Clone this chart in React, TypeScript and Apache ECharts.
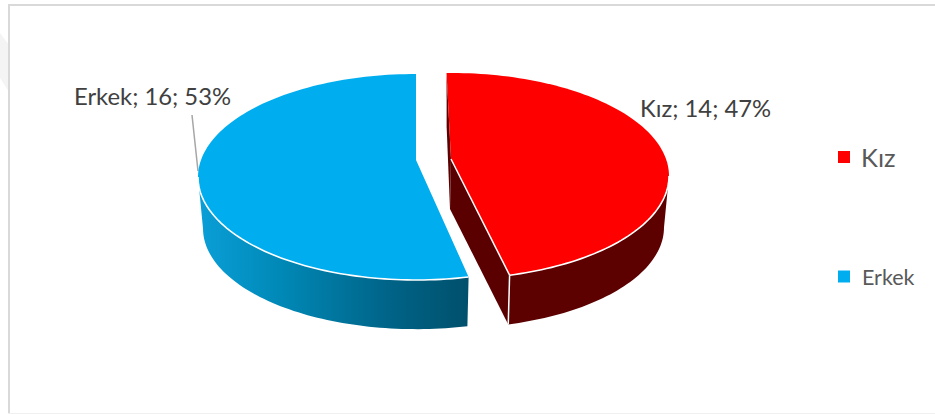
import React, { useEffect, useRef } from "react";
import * as echarts from "echarts";

const categories = ["Kız", "Erkek"];
const values = [14, 16];
const sliceColors = ["#ff0000", "#00aeef"];

const W = 935;
const H = 414;
const RX = 218;
const RY = 103;
const CX = 416;
const CY = 177;
const APEX_RATIO = -0.165; // perspective: the apex sits above the ellipse's centre
const DEPTH = 51.5;
const BOTTOM_SCALE = 0.977;
// explosion / small turn of each slice, in order of categories
const sliceOffset = [
  { dx: 35, dy: -1, turn: -1.4 },
  { dx: 0, dy: 0, turn: 0 },
];
const labelPos = [
  { x: 640, y: 108 },
  { x: 74, y: 96 },
];
const leader = [
  [192, 115],
  [198, 171],
];

const total = values.reduce((a, b) => a + b, 0);
const rad = (d: number) => (d * Math.PI) / 180;

// ray from the apex at angle th (clockwise from top) meets the unit circle at parameter phi
function hit(thDeg: number) {
  const dx = Math.sin(rad(thDeg));
  const dy = -Math.cos(rad(thDeg));
  const b = APEX_RATIO * dy;
  const c = APEX_RATIO * APEX_RATIO - 1;
  const t = -b + Math.sqrt(b * b - c);
  const x = t * dx;
  const y = APEX_RATIO + t * dy;
  return (Math.atan2(x, -y) * 180) / Math.PI;
}

function renderSlice(index: number) {
  return () => {
    const start = values.slice(0, index).reduce((a, b) => a + b, 0);
    const off = sliceOffset[index];
    const th0 = (start / total) * 360 + off.turn;
    const th1 = ((start + values[index]) / total) * 360 + off.turn;
    const p0 = hit(th0);
    let p1 = hit(th1);
    if (p1 < p0) p1 += 360;
    const cx = CX + off.dx;
    const cy = CY + off.dy;
    const top = (p: number): number[] => [
      cx + RX * Math.sin(rad(p)),
      cy - RY * Math.cos(rad(p)),
    ];
    const bot = (p: number): number[] => [
      cx + BOTTOM_SCALE * RX * Math.sin(rad(p)),
      cy + DEPTH - BOTTOM_SCALE * RY * Math.cos(rad(p)),
    ];
    const apex = [cx, cy + APEX_RATIO * RY];
    const apexBot = [cx - 1, cy + DEPTH + APEX_RATIO * RY * BOTTOM_SCALE - 2];
    const arc = (a: number, b: number, f: (p: number) => number[]) => {
      const n = Math.max(2, Math.ceil(Math.abs(b - a) / 1.5));
      const pts: number[][] = [];
      for (let i = 0; i <= n; i++) pts.push(f(a + ((b - a) * i) / n));
      return pts;
    };
    const visA = Math.max(p0, 90);
    const visB = Math.min(p1, 270);
    const topArc = arc(visA, visB, top);
    const botArc = arc(visB, visA, bot);
    const children: any[] = [];

    const isRed = index === 0;
    if (isRed) {
      // leading cut face, a thin sliver behind the slice
      children.push({
        type: "polygon",
        shape: { points: [top(p0), apex, apexBot, bot(p0)] },
        style: { fill: "#5a0000" },
      });
      // trailing cut face
      children.push({
        type: "polygon",
        shape: { points: [apex, top(p1), bot(p1), apexBot] },
        style: { fill: "#5a0000" },
      });
    }
    children.push({
      type: "polygon",
      shape: { points: [...topArc, ...botArc] },
      style: {
        fill: isRed
          ? "#5c0000"
          : new echarts.graphic.LinearGradient(0, 0, 1, 0, [
              { offset: 0, color: "#0a9fd8" },
              { offset: 0.3, color: "#0089b7" },
              { offset: 0.7, color: "#006488" },
              { offset: 1, color: "#00506c" },
            ]),
      },
    });
    if (isRed) {
      children.push({
        type: "line",
        shape: { x1: top(p1)[0], y1: top(p1)[1], x2: bot(p1)[0], y2: bot(p1)[1] },
        style: { stroke: "#ffffff", lineWidth: 1.5 },
      });
    }
    children.push({
      type: "polygon",
      shape: { points: [apex, ...arc(p0, p1, top)] },
      style: { fill: sliceColors[index] },
    });
    if (isRed) {
      children.push({
        type: "polyline",
        shape: { points: [apex, top(p1)] },
        style: { stroke: "#ffffff", lineWidth: 1.5, fill: "none" },
      });
    }
    children.push({
      type: "polyline",
      shape: { points: topArc },
      style: { stroke: "#ffffff", lineWidth: 1.6, fill: "none" },
    });
    const pct = Math.round((values[index] / total) * 100);
    children.push({
      type: "text",
      x: labelPos[index].x,
      y: labelPos[index].y,
      style: {
        text: `${categories[index]}; ${values[index]}; ${pct}%`,
        fill: "#404040",
        fontFamily: "Lato, 'Noto Sans', sans-serif",
        fontSize: 23.8,
        verticalAlign: "middle",
        align: "left",
      },
    });
    return { type: "group", children };
  };
}

export default function App() {
  const ref = useRef<HTMLDivElement>(null);
  useEffect(() => {
    const chart = echarts.init(ref.current as HTMLDivElement, undefined, {
      renderer: "svg",
    });
    chart.setOption({
      animation: false,
      backgroundColor: "#ffffff",
      legend: {
        orient: "vertical",
        left: 838,
        top: 144,
        padding: 0,
        itemWidth: 12,
        itemHeight: 12,
        itemGap: 95.5,
        selectedMode: false,
        textStyle: { fontFamily: "Lato, 'Noto Sans', sans-serif", color: "#595959" },
        data: [
          { name: categories[0], icon: "rect", textStyle: { fontSize: 25.5, color: "#595959", padding: [0, 0, 0, 6] } },
          { name: categories[1], icon: "rect", textStyle: { fontSize: 21.5, color: "#595959", padding: [0, 0, 0, 7] } },
        ],
      },
      graphic: [
        {
          type: "polygon",
          silent: true,
          shape: { points: [[0, 33], [9, 45], [9, 92], [0, 78]] },
          style: { fill: "#f4f4f4" },
        },
        { type: "rect", silent: true, shape: { x: 8, y: 4, width: 2, height: 410 }, style: { fill: "#d9d9d9" } },
        { type: "rect", silent: true, shape: { x: 8, y: 4, width: 927, height: 2 }, style: { fill: "#d9d9d9" } },
        { type: "rect", silent: true, shape: { x: 8, y: 413, width: 927, height: 1 }, style: { fill: "#f0f0f0" } },
        {
          type: "line",
          silent: true,
          shape: { x1: leader[0][0], y1: leader[0][1], x2: leader[1][0], y2: leader[1][1] },
          style: { stroke: "#a6a6a6", lineWidth: 1.5 },
        },
      ],
      series: categories.map((name, i) => ({
        type: "custom",
        name,
        coordinateSystem: "none",
        itemStyle: { color: sliceColors[i] },
        data: [[values[i]]],
        renderItem: renderSlice(i),
      })),
    });
    return () => chart.dispose();
  }, []);
  return (
    <div
      ref={ref}
      style={{ position: "fixed", left: 0, top: 0, width: W, height: H }}
    />
  );
}
